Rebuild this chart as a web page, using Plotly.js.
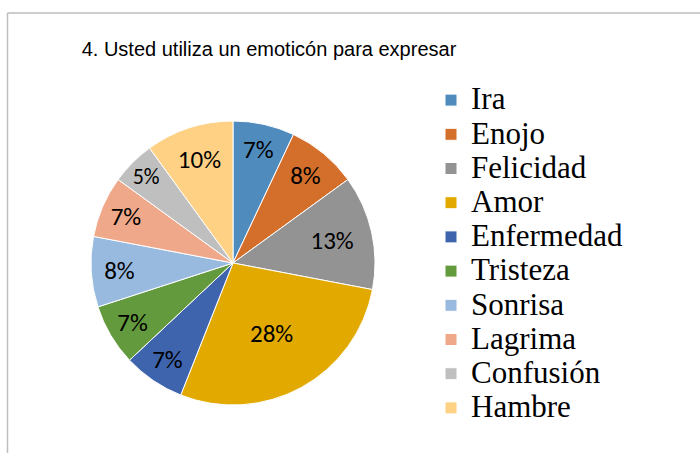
<!DOCTYPE html>
<html>
<head>
<meta charset="utf-8">
<script src="https://cdn.plot.ly/plotly-3.0.1.min.js"></script>
<style>
  html, body { margin: 0; padding: 0; background: #ffffff; }
  #chart { width: 700px; height: 453px; }
</style>
</head>
<body>
<div id="chart"></div>
<script>
const categories = ["Ira", "Enojo", "Felicidad", "Amor", "Enfermedad", "Tristeza", "Sonrisa", "Lagrima", "Confusión", "Hambre"];
const values = [7, 8, 13, 28, 7, 7, 8, 7, 5, 10];
const colors = ["#4F8BBD", "#D46F2B", "#939393", "#E2AA00", "#3E64AD", "#639A3D", "#99BADF", "#F0A88A", "#BFBFBF", "#FED185"];
const titleText = "4. Usted utiliza un emoticón para expresar";

const W = 700, H = 453;
const cx = 233, cy = 263, r = 142;

// Legend entries are drawn a bit larger than the row pitch font size (as in the original)
const legendLabels = categories.map(c => '<span style="font-size:31px">' + c + '</span>');

const trace = {
  type: "pie",
  labels: legendLabels,
  values: values,
  sort: false,
  direction: "clockwise",
  rotation: 0,
  marker: { colors: colors, line: { color: "#ffffff", width: 1 } },
  texttemplate: "%{percent:.0%}",
  textposition: "inside",
  insidetextorientation: "horizontal",
  textfont: { family: "Carlito, 'Open Sans', sans-serif", size: 25, color: "#000000" },
  hoverinfo: "percent",
  domain: { x: [(cx - r) / W, (cx + r) / W], y: [(H - cy - r) / H, (H - cy + r) / H] }
};

const layout = {
  width: W, height: H,
  margin: { l: 0, r: 0, t: 0, b: 0, autoexpand: false },
  paper_bgcolor: "#ffffff",
  title: {
    text: titleText,
    font: { family: "'Liberation Sans', Arial, sans-serif", size: 20, color: "#000000" },
    x: 269 / W, xanchor: "center", xref: "container",
    y: 1 - 49 / H, yanchor: "middle", yref: "container"
  },
  showlegend: true,
  legend: {
    xref: "container", yref: "container",
    x: 431 / W, xanchor: "left",
    y: 1 - 78 / H, yanchor: "top",
    maxheight: 400,
    font: { family: "'Liberation Serif', 'Times New Roman', serif", size: 24, color: "#000000" },
    bgcolor: "rgba(0,0,0,0)",
    traceorder: "normal"
  },
  shapes: [
    { type: "line", xref: "paper", yref: "paper", x0: 7.5 / W, x1: 1, y0: 1 - 13 / H, y1: 1 - 13 / H, line: { color: "#BEBEBE", width: 1.5 } },
    { type: "line", xref: "paper", yref: "paper", x0: 7.5 / W, x1: 7.5 / W, y0: 0, y1: 1 - 13 / H, line: { color: "#BEBEBE", width: 1.5 } }
  ]
};

Plotly.newPlot("chart", [trace], layout, { displayModeBar: false, staticPlot: true });
</script>
</body>
</html>
